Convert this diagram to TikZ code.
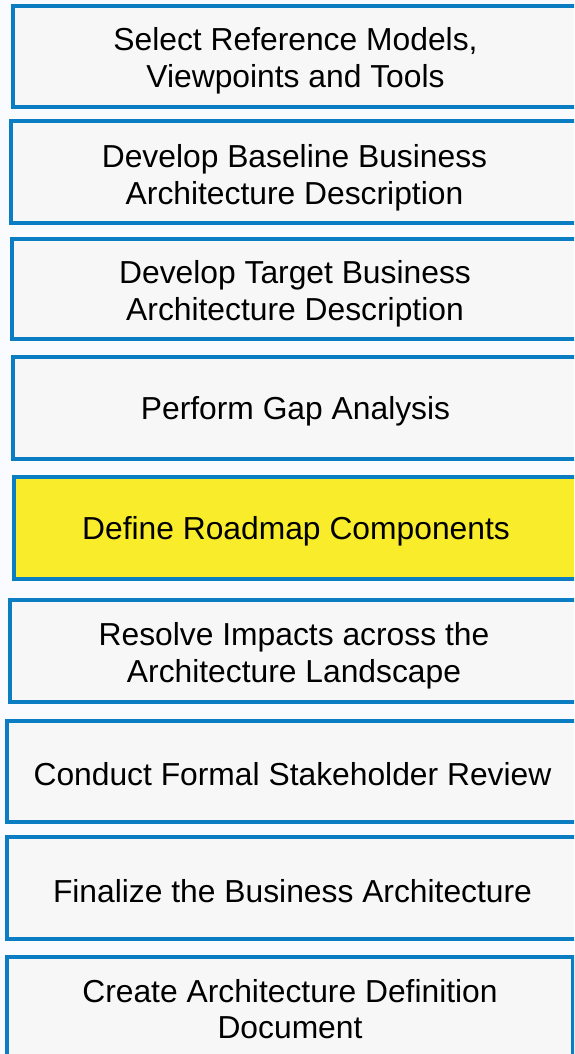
\documentclass[tikz,border=0pt]{standalone}
\usepackage{fontspec}
\setmainfont{Liberation Sans}
\usetikzlibrary{positioning}
\definecolor{archblue}{HTML}{0B7EC3}
\definecolor{boxgray}{HTML}{F7F7F7}
\definecolor{roadyellow}{HTML}{F9EC2B}
\definecolor{pagebg}{HTML}{FAFBFE}
\begin{document}
\begin{tikzpicture}[x=1pt,y=-1pt,
  stage/.style={draw=archblue, line width=4pt, inner sep=0pt, align=center,
    font=\fontsize{31.8}{36.5}\selectfont,
    execute at begin node={\rule{0pt}{#1}}},
  stage/.default=30pt]
\fill[pagebg] (0,0) rectangle (574,1054);
\clip (0,0) rectangle (574,1054);
% last-but-one field: strut height that sets where the text sits in its box
\foreach \n/\x/\y/\w/\h/\f/\t/\l in {
  select/295.5/56.5/565/101/boxgray/68pt/{Select Reference Models,\\Viewpoints and Tools},
  baseline/294.5/172/567/102/boxgray/71pt/{Develop Baseline Business\\Architecture Description},
  target/295/289/566/100/boxgray/69pt/{Develop Target Business\\Architecture Description},
  gap/295.5/408/565/102/boxgray/30pt/{Perform Gap Analysis},
  roadmap/296/528/564/102/roadyellow/30pt/{Define Roadmap Components},
  impacts/294/651/568/102/boxgray/69pt/{Resolve Impacts across the\\Architecture Landscape},
  review/292.5/771.5/571/101/boxgray/28pt/{Conduct Formal Stakeholder Review},
  finalize/292.5/888/571/102/boxgray/30pt/{Finalize the Business Architecture},
  document/290/1008.5/566/103/boxgray/61pt/{Create Architecture Definition\\Document}} {
  \node[stage=\t, fill=\f, minimum width=\w pt, minimum height=\h pt] (\n) at (\x,\y) {\l};
}
\end{tikzpicture}
\end{document}
